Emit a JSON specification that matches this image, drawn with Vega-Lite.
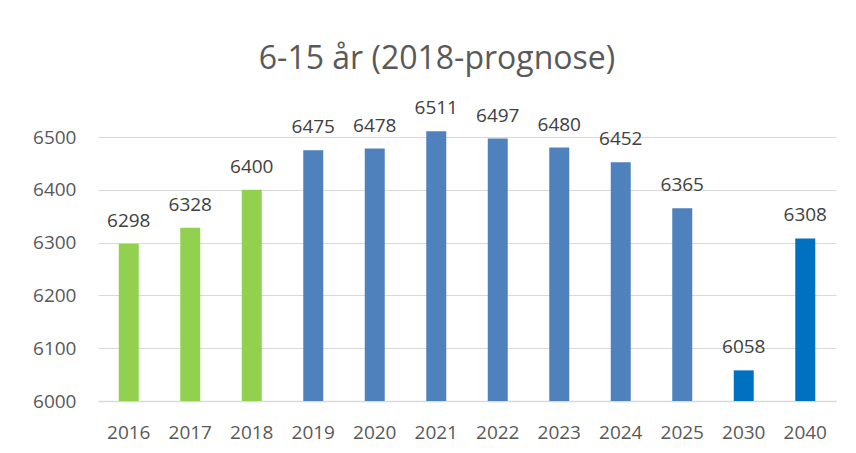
{
  "$schema": "https://vega.github.io/schema/vega-lite/v6.json",
  "width": 738,
  "height": 264,
  "autosize": {"type": "none"},
  "padding": {"left": 98, "top": 137, "right": 20, "bottom": 52},
  "background": "white",
  "config": {
    "view": {"stroke": null},
    "font": "Open Sans"
  },
  "title": {
    "text": "6-15 år (2018-prognose)",
    "fontSize": 32,
    "fontWeight": "normal",
    "color": "#595959",
    "font": "Open Sans",
    "anchor": "middle",
    "frame": "group",
    "dx": -30,
    "offset": 23
  },
  "data": {
    "values": [
      {"year": "2016", "value": 6298, "group": "actual"},
      {"year": "2017", "value": 6328, "group": "actual"},
      {"year": "2018", "value": 6400, "group": "actual"},
      {"year": "2019", "value": 6475, "group": "forecast"},
      {"year": "2020", "value": 6478, "group": "forecast"},
      {"year": "2021", "value": 6511, "group": "forecast"},
      {"year": "2022", "value": 6497, "group": "forecast"},
      {"year": "2023", "value": 6480, "group": "forecast"},
      {"year": "2024", "value": 6452, "group": "forecast"},
      {"year": "2025", "value": 6365, "group": "forecast"},
      {"year": "2030", "value": 6058, "group": "long"},
      {"year": "2040", "value": 6308, "group": "long"}
    ]
  },
  "encoding": {
    "x": {
      "field": "year",
      "type": "ordinal",
      "sort": null,
      "scale": {"paddingInner": 0.675, "paddingOuter": 0.3375},
      "axis": {
        "title": null,
        "labelAngle": 0,
        "labelFontSize": 19,
        "labelColor": "#595959",
        "labelPadding": 22,
        "ticks": false,
        "domain": true,
        "domainColor": "#d9d9d9",
        "domainWidth": 1.5
      }
    },
    "y": {
      "field": "value",
      "type": "quantitative",
      "scale": {"domain": [6000, 6500], "zero": false, "nice": false},
      "axis": {
        "title": null,
        "values": [6000, 6100, 6200, 6300, 6400, 6500],
        "format": "d",
        "labelFontSize": 19,
        "labelColor": "#595959",
        "labelPadding": 22,
        "ticks": false,
        "domain": false,
        "grid": true,
        "gridColor": "#d9d9d9",
        "gridWidth": 1.2
      }
    }
  },
  "layer": [
    {
      "mark": {"type": "bar", "clip": false},
      "encoding": {
        "y2": {"datum": 6000},
        "color": {
          "field": "group",
          "type": "nominal",
          "scale": {"domain": ["actual", "forecast", "long"], "range": ["#92D050", "#4F81BD", "#0070C0"]},
          "legend": null
        }
      }
    },
    {
      "mark": {"type": "text", "baseline": "alphabetic", "dy": -17, "fontSize": 19, "color": "#404040"},
      "encoding": {
        "text": {"field": "value", "type": "quantitative", "format": "d"}
      }
    }
  ]
}
